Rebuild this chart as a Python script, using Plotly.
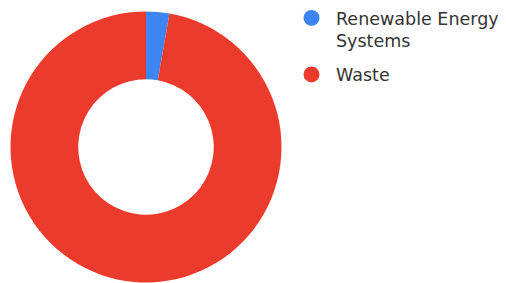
import plotly.graph_objects as go

labels = ["Renewable Energy<br>Systems", "Waste"]
values = [1, 35]
colors = ["#3d85f0", "#ec3b2c"]

W, H = 506, 283

fig = go.Figure()
fig.add_trace(go.Pie(
    labels=labels, values=values, hole=0.5, sort=False, direction="clockwise",
    rotation=0, marker=dict(colors=colors, line=dict(width=0)),
    textinfo="none", showlegend=False,
    domain=dict(x=[2.5/W, 273.5/W], y=[8.5/H, 279.5/H]),
    hoverinfo="label+percent",
))
for lab, col in zip(labels, colors):
    fig.add_trace(go.Scatter(x=[None], y=[None], mode="markers", name=lab,
                             legendgroup=lab,
                             marker=dict(symbol="circle", size=16, color=col)))

fig.update_layout(
    width=W, height=H,
    margin=dict(l=0, r=0, t=0, b=0, autoexpand=False),
    paper_bgcolor="white", plot_bgcolor="white",
    xaxis=dict(visible=False), yaxis=dict(visible=False),
    font=dict(family="DejaVu Sans, sans-serif", size=17.5, color="#333333"),
    legend=dict(x=279/W, xanchor="left", y=1 + 8/H, yanchor="top",
                valign="top", itemsizing="trace", itemwidth=39, tracegroupgap=8,
                font=dict(size=17.5)),
)
fig.write_html("out.html")
